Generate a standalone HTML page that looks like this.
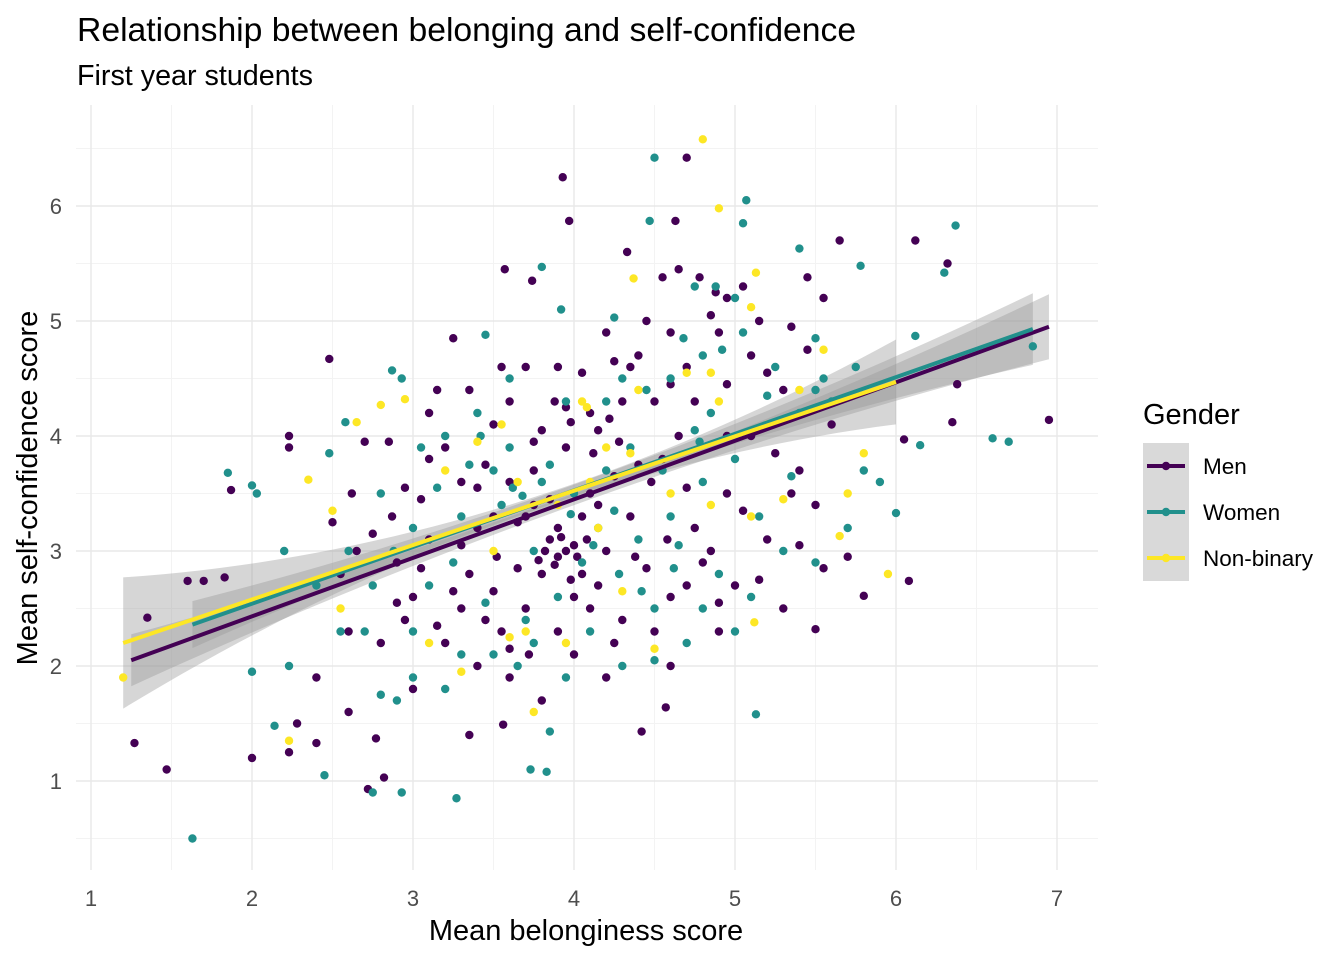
<!DOCTYPE html>
<html><head><meta charset="utf-8">
<style>
body{margin:0;background:#fff;}
svg{display:block;font-family:"Liberation Sans",sans-serif;}
</style></head>
<body>
<svg id="chart" width="1344" height="960" viewBox="0 0 1344 960">
<text x="77" y="41" font-size="33.7" fill="#000">Relationship between belonging and self-confidence</text>
<text x="77" y="85" font-size="28.7" fill="#000">First year students</text>
<g id="grid"></g>
<g id="ribbons"></g>
<g id="points"></g>
<g id="lines"></g>
<g id="axes"></g>
<text x="586" y="940" font-size="29" text-anchor="middle" fill="#000">Mean belonginess score</text>
<text transform="translate(37,488) rotate(-90)" font-size="29" text-anchor="middle" fill="#000">Mean self-confidence score</text>
<g id="legend">
<text x="1143" y="424" font-size="29" fill="#000">Gender</text>
</g>
</svg>
<script>
const xTicks=[1,2,3,4,5,6,7];
const yTicks=[1,2,3,4,5,6];
const groups=["Men","Women","Non-binary"];
const colors=["#440154","#21908C","#FDE725"];
const fitStart=[[1.25,2.05],[1.63,2.36],[1.2,2.2]];
const fitEnd=[[6.95,4.95],[6.85,4.93],[6.0,4.47]];
const ribbonCenter=[3.9,3.9,3.9];
const ribbonBase=[0.05,0.05,0.06];
const ribbonCurv=[0.025,0.03,0.07];
const menPts=[[1.27,1.33],[1.47,1.1],[1.35,2.42],[1.6,2.74],[1.7,2.74],[1.83,2.77],[1.87,3.53],[2.0,1.2],[2.23,4.0],[2.23,3.9],[2.23,1.25],[2.28,1.5],[2.48,4.67],[3.93,6.25],[3.97,5.87],[4.7,6.42],[4.63,5.87],[4.33,5.6],[6.12,5.7],[6.32,5.5],[6.95,4.14],[6.08,2.74],[5.8,2.61],[6.35,4.12],[6.38,4.45],[6.05,3.97],[4.57,1.64],[4.42,1.43],[3.56,1.49],[2.72,0.93],[2.82,1.03],[2.77,1.37],[2.4,1.33],[3.35,1.4],[5.5,2.32],[5.65,5.7],[5.45,5.38],[5.55,5.2],[3.57,5.45],[3.74,5.35],[4.65,5.45],[4.95,5.2],[5.15,5.0],[3.25,4.85],[2.62,3.5],[2.7,3.95],[2.87,3.3],[3.1,3.8],[3.3,3.6],[3.5,4.1],[3.75,3.7],[3.95,3.9],[4.1,4.2],[4.2,3.0],[4.0,3.05],[3.9,2.95],[3.85,3.1],[4.05,2.8],[3.7,2.5],[3.55,2.3],[3.4,2.0],[3.2,2.2],[3.0,2.6],[2.8,2.2],[2.6,2.3],[4.3,2.4],[4.6,2.6],[4.8,2.9],[5.0,2.7],[5.2,3.1],[5.4,3.7],[5.5,3.4],[5.3,4.4],[5.1,4.7],[4.9,4.9],[4.7,4.6],[4.5,4.3],[4.4,4.7],[4.2,4.9],[3.9,4.6],[3.6,4.3],[3.4,3.2],[3.3,2.5],[3.1,3.1],[2.9,2.9],[4.1,3.5],[4.35,3.3],[4.55,3.8],[4.75,3.2],[4.95,3.5],[5.1,4.0],[5.6,4.1],[5.7,2.95],[4.0,2.1],[3.8,1.7],[4.2,1.9],[4.6,2.0],[3.6,1.9],[3.0,1.8],[2.6,1.6],[2.4,1.9],[5.3,2.5],[4.9,2.3],[3.95,4.25],[4.15,4.05],[3.85,3.45],[4.25,3.65],[3.65,3.25],[3.45,3.75],[2.5,3.25],[2.75,3.15],[3.15,4.4],[3.7,4.6],[4.45,5.0],[5.05,5.3],[4.85,5.05],[3.8,2.8],[4.0,2.6],[4.15,2.7],[3.9,3.2],[4.05,3.3],[3.75,3.95],[4.3,4.3],[3.35,2.8],[4.65,4.0],[3.6,3.6],[3.05,3.45],[2.95,2.4],[4.45,2.85],[4.7,3.55],[3.5,2.65],[3.82,3.0],[3.88,2.88],[3.95,3.0],[4.02,2.95],[3.92,3.12],[3.78,2.92],[4.08,3.1],[3.98,2.75],[3.7,3.3],[4.12,3.85],[4.22,4.15],[4.35,4.6],[4.6,4.9],[4.78,5.38],[4.88,5.25],[4.55,5.38],[3.98,4.12],[3.88,4.3],[4.28,3.95],[4.48,3.6],[4.58,3.1],[4.38,2.95],[3.65,2.85],[3.52,2.95],[3.4,3.55],[3.2,3.9],[2.95,3.55],[2.85,3.95],[3.05,2.85],[3.25,2.65],[3.6,2.15],[3.72,2.1],[3.9,2.3],[4.1,2.5],[4.25,2.2],[4.5,2.3],[4.7,2.7],[4.85,3.0],[5.05,3.35],[5.25,3.85],[5.45,4.75],[5.35,4.95],[5.2,4.55],[4.95,4.45],[4.6,4.45],[3.8,4.05],[3.55,4.6],[3.35,4.4],[3.1,4.2],[2.65,3.0],[2.55,2.8],[2.9,2.55],[3.15,2.35],[3.45,2.4],[4.9,2.55],[5.15,2.75],[5.4,3.05],[5.55,2.85],[5.35,3.5],[4.4,3.75],[4.15,3.4],[3.75,3.4],[3.5,3.3],[3.3,3.05],[4.95,4.0],[4.75,4.3],[4.25,4.65],[4.05,4.55]];
const womenPts=[[1.63,0.5],[1.85,3.68],[2.0,3.57],[2.03,3.5],[2.0,1.95],[2.14,1.48],[2.23,2.0],[2.45,1.05],[2.75,0.9],[2.93,0.9],[3.27,0.85],[3.73,1.1],[3.83,1.08],[3.85,1.43],[5.13,1.58],[4.5,6.42],[5.07,6.05],[4.47,5.87],[5.05,5.85],[6.37,5.83],[6.3,5.42],[5.78,5.48],[5.4,5.63],[6.6,3.98],[6.7,3.95],[6.0,3.33],[6.15,3.92],[6.85,4.78],[6.12,4.87],[3.8,5.47],[2.58,4.12],[2.48,3.85],[2.87,4.57],[2.93,4.5],[3.45,4.88],[3.92,5.1],[4.25,5.03],[4.75,5.3],[5.0,5.2],[5.5,4.85],[5.5,4.4],[5.4,4.2],[5.0,3.8],[4.8,3.6],[4.6,3.3],[4.4,3.1],[4.2,3.7],[4.0,3.5],[3.8,3.6],[3.6,3.9],[3.4,4.2],[3.2,4.0],[3.0,3.2],[2.8,3.5],[2.6,3.0],[2.4,2.7],[2.2,3.0],[3.0,2.3],[3.2,1.8],[3.5,2.1],[3.7,2.4],[3.9,2.6],[4.1,2.3],[4.3,2.0],[4.5,2.5],[4.7,2.2],[4.9,2.8],[5.1,2.6],[5.3,3.0],[5.5,2.9],[5.7,3.2],[5.8,3.7],[5.9,3.6],[4.6,4.5],[4.8,4.7],[4.3,4.5],[3.95,4.3],[3.6,4.5],[3.3,3.3],[3.1,2.7],[2.9,1.7],[2.7,2.3],[2.55,2.3],[4.15,3.2],[4.35,3.9],[4.55,3.7],[4.85,4.2],[5.25,4.6],[5.15,3.3],[3.75,3.0],[3.55,3.4],[4.05,2.9],[3.85,3.75],[4.25,3.35],[4.65,3.05],[3.45,2.55],[4.75,4.05],[3.15,3.55],[3.62,3.55],[3.68,3.48],[3.98,3.32],[4.12,3.05],[4.28,2.8],[4.42,2.65],[4.62,2.85],[4.78,3.95],[4.92,4.75],[5.05,4.9],[4.68,4.85],[4.88,5.3],[5.2,4.35],[5.35,3.65],[5.6,4.3],[5.75,4.6],[5.55,4.5],[3.35,3.75],[3.05,3.9],[2.88,3.0],[2.75,2.7],[3.25,2.9],[3.5,3.7],[3.42,4.0],[4.2,4.3],[4.45,4.4],[3.75,2.2],[3.65,2.0],[3.95,1.9],[4.5,2.05],[4.8,2.5],[5.0,2.3],[3.3,2.1],[3.0,1.9],[2.8,1.75]];
const nbPts=[[1.2,1.9],[2.23,1.35],[4.8,6.58],[4.9,5.98],[4.37,5.37],[5.13,5.42],[5.1,5.12],[5.95,2.8],[5.12,2.38],[3.75,1.6],[3.6,2.25],[2.5,3.35],[2.65,4.12],[2.8,4.27],[2.95,4.32],[3.4,3.95],[3.65,3.6],[3.9,3.4],[4.2,3.9],[4.4,4.4],[4.7,4.55],[4.9,4.3],[5.2,4.1],[5.4,4.4],[5.7,3.5],[5.8,3.85],[5.65,3.13],[4.5,2.15],[4.3,2.65],[3.95,2.2],[3.3,1.95],[3.1,2.2],[2.55,2.5],[2.35,3.62],[3.2,3.7],[3.5,3.0],[4.1,3.6],[4.6,3.5],[4.85,3.4],[5.1,3.3],[5.3,3.45],[4.08,4.25],[4.05,4.3],[4.35,3.85],[4.85,4.55],[5.55,4.75],[3.7,2.3],[3.55,4.1],[4.15,3.2]];
const allPts=[menPts,womenPts,nbPts];

const NS="http://www.w3.org/2000/svg";
const X0=76,X1=1098,Y0=105,Y1=870;
function sx(v){return 91+(v-1)*161;}
function sy(v){return 206+(6-v)*115;}
function mk(tag,attrs,parent){const e=document.createElementNS(NS,tag);for(const k in attrs)e.setAttribute(k,attrs[k]);parent.appendChild(e);return e;}
const grid=document.getElementById('grid');
for(let v=1.5;v<7;v+=1){const l=mk('line',{x1:sx(v),x2:sx(v),y1:Y0,y2:Y1,stroke:'#f3f3f3','stroke-width':1},grid);

}
for(let v=0.5;v<7;v+=1){const l=mk('line',{x1:X0,x2:X1,y1:sy(v),y2:sy(v),stroke:'#f3f3f3','stroke-width':1},grid);

}
const axes=document.getElementById('axes');
xTicks.forEach(v=>{const l=mk('line',{x1:sx(v),x2:sx(v),y1:Y0,y2:Y1,stroke:'#e8e8e8','stroke-width':1.4},grid);


const t=mk('text',{x:sx(v),y:906,'font-size':22,fill:'#4d4d4d','text-anchor':'middle'},axes);t.textContent=v;

});
yTicks.forEach(v=>{const l=mk('line',{x1:X0,x2:X1,y1:sy(v),y2:sy(v),stroke:'#e8e8e8','stroke-width':1.4},grid);


const t=mk('text',{x:62,y:sy(v)+8,'font-size':22,fill:'#4d4d4d','text-anchor':'end'},axes);t.textContent=v;

});
const rib=document.getElementById('ribbons'),pts=document.getElementById('points'),lines=document.getElementById('lines');
groups.forEach((g,i)=>{
 const [xa,ya]=fitStart[i],[xb,yb]=fitEnd[i];const slope=(yb-ya)/(xb-xa);
 const up=[],dn=[];
 for(let k=0;k<=40;k++){const x=xa+(xb-xa)*k/40;const y=ya+slope*(x-xa);const h=ribbonBase[i]+ribbonCurv[i]*(x-ribbonCenter[i])**2;
  up.push(sx(x)+','+sy(y+h));dn.unshift(sx(x)+','+sy(y-h));}
 const p=mk('polygon',{points:up.concat(dn).join(' '),fill:'#999999','fill-opacity':0.4},rib);
 
 
});
groups.forEach((g,i)=>{allPts[i].forEach(d=>{const c=mk('circle',{cx:sx(d[0]),cy:sy(d[1]),r:4.2,fill:colors[i]},pts);
 
 });});
groups.forEach((g,i)=>{const l=mk('line',{x1:sx(fitStart[i][0]),y1:sy(fitStart[i][1]),x2:sx(fitEnd[i][0]),y2:sy(fitEnd[i][1]),stroke:colors[i],'stroke-width':4},lines);
 
 });
const leg=document.getElementById('legend');
groups.forEach((g,i)=>{const y=443+i*46;
 const r=mk('rect',{x:1143,y:y,width:46,height:46,fill:'#d9d9d9'},leg);
 
 
 const l=mk('line',{x1:1147,x2:1185,y1:y+23,y2:y+23,stroke:colors[i],'stroke-width':4},leg);
 
 
 const c=mk('circle',{cx:1166,cy:y+23,r:4.2,fill:colors[i]},leg);
 
 
 const t=mk('text',{x:1203,y:y+31,'font-size':22.5,fill:'#000'},leg);t.textContent=g;
 
 });
</script>
</body></html>
